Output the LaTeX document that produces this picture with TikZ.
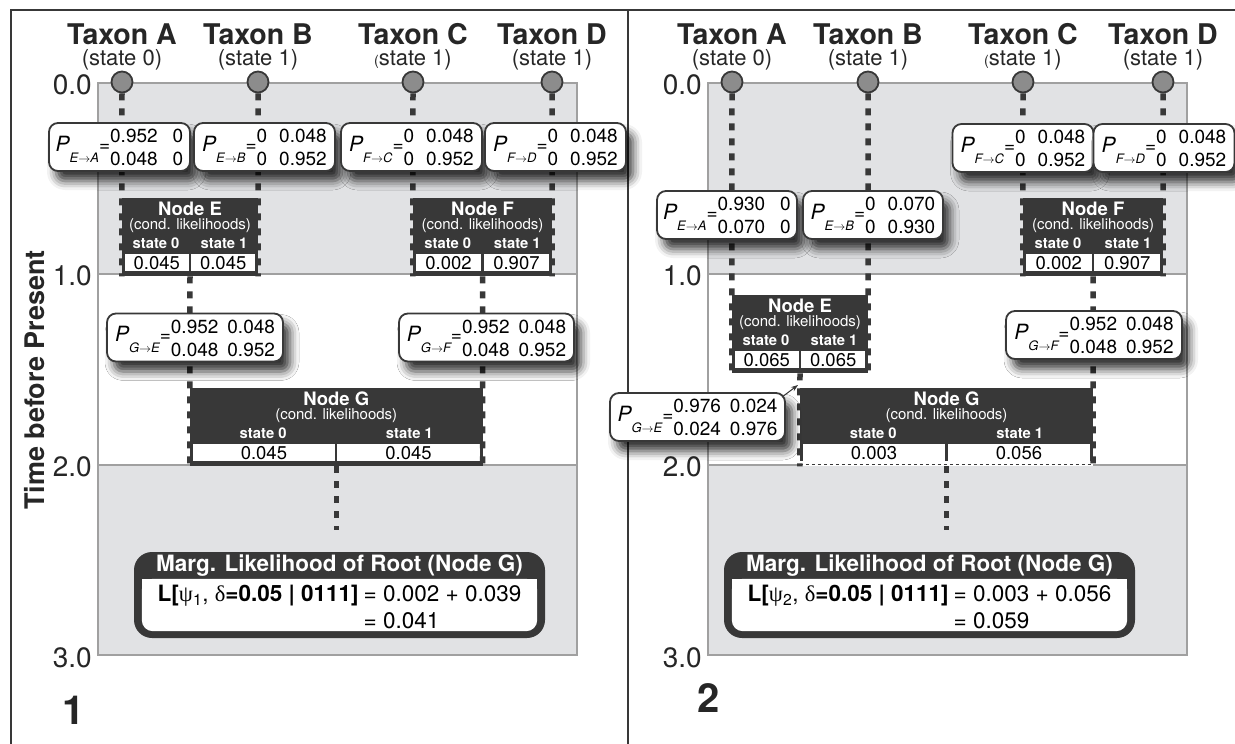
\documentclass[tikz,border=0pt]{standalone}
\usepackage{fontspec}
\setmainfont{TeX Gyre Heros}
\newfontfamily\grkfont{Liberation Serif}
\usetikzlibrary{arrows.meta,shadows.blur}

\definecolor{boxdark}{HTML}{383838}
\definecolor{plotgray}{HTML}{E1E2E4}
\definecolor{axisgray}{HTML}{A0A0A0}
\definecolor{leafgray}{HTML}{8C8C8C}
\definecolor{inkdark}{HTML}{262626}

\newcommand{\fsz}[1]{\fontsize{#1}{#1}\selectfont}

\tikzset{
  branch/.style={line width=5.5pt, draw=boxdark, dash pattern=on 7pt off 8pt},
  leaf/.style={circle, draw=boxdark, line width=1.8pt, fill=leafgray, minimum size=21pt, inner sep=0pt},
  taxon/.style={anchor=base, inner sep=0pt, text=inkdark, font=\fsz{28.5}\bfseries},
  tstate/.style={anchor=base, inner sep=0pt, text=inkdark, font=\fsz{22}},
  axislab/.style={anchor=base east, inner sep=0pt, text=inkdark, font=\fsz{28}},
  timelab/.style={rotate=90, anchor=base, inner sep=0pt, text=inkdark, font=\fsz{27}\bfseries},
  pbox/.style={draw=boxdark, line width=1.8pt, fill=white, rounded corners=9pt, minimum height=48pt, inner sep=1pt,
    text height=27pt, text depth=19pt,
    blur shadow={shadow xshift=7pt, shadow yshift=-10pt, shadow blur radius=9pt, shadow opacity=80}},
  condbg/.style={fill=boxdark, minimum height=78pt, inner sep=0pt},
  condtitle/.style={inner sep=0pt, text=white, font=\fsz{18.5}\bfseries},
  condsub/.style={inner sep=0pt, text=white, font=\fsz{15}},
  condstate/.style={inner sep=0pt, text=white, font=\fsz{14.8}\bfseries},
  cell/.style={fill=white, minimum height=17pt, inner sep=0pt, font=\fsz{18.5}},
  rootbox/.style={fill=boxdark, rounded corners=18pt, minimum width=411pt, minimum height=86pt, inner sep=0pt},
  roottitle/.style={inner sep=0pt, text=white, font=\fsz{22.5}\bfseries},
  rootbody/.style={inner sep=0pt, anchor=north, font=\fontsize{22.5}{27}\selectfont},
  panel/.style={inner sep=0pt, text=inkdark, font=\fsz{40}\bfseries},
}

% transition matrix text: [column gap]{from}{to}{rows}
\newcommand{\Pmat}[4][14pt]{%
  {\fsz{21}\itshape P}\raisebox{-11pt}{\fsz{13}\itshape #2$\rightarrow$#3}{\fsz{19}=}%
  \raisebox{-3pt}{\fontsize{19}{21}\selectfont\def\arraystretch{1.1}%
   \begin{tabular}{@{}l@{\hspace{#1}}l@{}}#4\end{tabular}}}

% conditional likelihood box: name, x, top, width, letter, state 0, state 1
\newcommand{\condbox}[7]{%
  \node[condbg, minimum width=#4pt, anchor=north] (#1) at (#2,#3) {};
  \node[condtitle] (#1t) at ([yshift=-11pt]#1.north) {Node #5};
  \node[condsub] (#1c) at ([yshift=-28pt]#1.north) {(cond. likelihoods)};
  \node[condstate] (#1s0) at ([xshift=-#4pt/4, yshift=-45pt]#1.north) {state 0};
  \node[condstate] (#1s1) at ([xshift=#4pt/4, yshift=-45pt]#1.north) {state 1};
  \node[cell, minimum width=#4pt/2-4pt, anchor=north east] (#1v0) at ([xshift=-1pt, yshift=-56pt]#1.north) {#6};
  \node[cell, minimum width=#4pt/2-4pt, anchor=north west] (#1v1) at ([xshift=1pt, yshift=-56pt]#1.north) {#7};
}

\begin{document}
\begin{tikzpicture}[x=1pt, y=-1pt]
\useasboundingbox (0,0) rectangle (1235,744);

% frame
\draw[boxdark, line width=2pt] (11,744) -- (11,10) -- (1235,10);
\draw[boxdark, line width=2pt] (628,10) -- (628,744);

% time bands
\fill[plotgray] (98,83) rectangle (577,655);
\fill[white] (98,274) rectangle (577,465);
\draw[axisgray, line width=1.2pt] (98,83) rectangle (577,655) (98,274) -- (577,274) (98,465) -- (577,465);
\fill[plotgray] (708,83) rectangle (1187,655);
\fill[white] (708,274) rectangle (1187,465);
\draw[axisgray, line width=1.2pt] (708,83) rectangle (1187,655) (708,274) -- (1187,274) (708,465) -- (1187,465);

\foreach \t/\yy in {0/94, 1/285, 2/476, 3/667} {
  \node[axislab] (ax1\t) at (92,\yy) {\t.0};
  \node[axislab] (ax2\t) at (702,\yy) {\t.0};
}
\node[timelab] (tbp) at (45,380) {Time before Present};
\node[panel] (lab1) at (74,710) {1};
\node[panel] (lab2) at (709,698) {2};

% node boxes
\condbox{E1}{190}{198}{136}{E}{0.045}{0.045}
\condbox{F1}{482.5}{198}{139}{F}{0.002}{0.907}
\condbox{G1}{336.25}{388}{292.5}{G}{0.045}{0.045}
\condbox{E2}{800}{295}{136}{E}{0.065}{0.065}
\condbox{F2}{1093}{198}{140}{F}{0.002}{0.907}
\condbox{G2}{946.5}{388}{293}{G}{0.003}{0.056}
\fill[white] ([yshift=5pt]G2.south west) rectangle (G2.south east);
\draw[boxdark, line width=1.3pt, dashed] ([yshift=2pt]G2.south west) -- ([yshift=2pt]G2.south east);

% taxa
\foreach \n/\xa/\xb/\st in {A/122/732/{(state 0)}, B/258/868/{(state 1)}, C/413/1023/{{\fsz{14}(}state 1)}, D/552/1163/{(state 1)}} {
  \node[taxon] (tx\n1) at (\xa,44) {Taxon \n};
  \node[tstate] (st\n1) at (\xa,65) {\st};
  \node[leaf] (c\n1) at (\xa,82) {};
  \node[taxon] (tx\n2) at (\xb,44) {Taxon \n};
  \node[tstate] (st\n2) at (\xb,65) {\st};
  \node[leaf] (c\n2) at (\xb,82) {};
}

% branches
\coordinate (r1) at (336.25,530);
\coordinate (r2) at (946.5,530);
\draw[branch] (cA1.south) -- (E1.south west);
\draw[branch] (cB1.south) -- (E1.south east);
\draw[branch] (cC1.south) -- (F1.south west);
\draw[branch] (cD1.south) -- (F1.south east);
\draw[branch] (E1.south) -- (G1.south west);
\draw[branch] (F1.south) -- (G1.south east);
\draw[branch] (G1.south) -- (r1);
\draw[branch] (cA2.south) -- (E2.south west);
\draw[branch] (cB2.south) -- (E2.south east);
\draw[branch] (cC2.south) -- (F2.south west);
\draw[branch] (cD2.south) -- (F2.south east);
\draw[branch] (E2.south) -- (G2.south west);
\draw[branch] (F2.south) -- (G2.south east);
\draw[branch] (G2.south) -- (r2);

% transition probabilities
\node[pbox, minimum width=141pt] (pEA1) at (119.5,147) {\Pmat[15pt]{E}{A}{0.952 & 0\\0.048 & 0}};
\node[pbox, minimum width=141pt] (pEB1) at (264.5,147) {\Pmat[12pt]{E}{B}{0 & 0.048\\0 & 0.952}};
\node[pbox, minimum width=141pt] (pFC1) at (411.5,147) {\Pmat[12pt]{F}{C}{0 & 0.048\\0 & 0.952}};
\node[pbox, minimum width=141pt] (pFD1) at (555.5,147) {\Pmat[12pt]{F}{D}{0 & 0.048\\0 & 0.952}};
\node[pbox, minimum width=176pt] (pGE1) at (195,337.5) {\Pmat[9pt]{G}{E}{0.952 & 0.048\\0.048 & 0.952}};
\node[pbox, minimum width=175pt] (pGF1) at (486.5,337.5) {\Pmat[9pt]{G}{F}{0.952 & 0.048\\0.048 & 0.952}};
\node[pbox, minimum width=140pt] (pEA2) at (727,215) {\Pmat[15pt]{E}{A}{0.930 & 0\\0.070 & 0}};
\node[pbox, minimum width=140pt] (pEB2) at (873,215) {\Pmat[12pt]{E}{B}{0 & 0.070\\0 & 0.930}};
\node[pbox, minimum width=141pt] (pFC2) at (1023,148) {\Pmat[12pt]{F}{C}{0 & 0.048\\0 & 0.952}};
\node[pbox, minimum width=141pt] (pFD2) at (1164,148) {\Pmat[12pt]{F}{D}{0 & 0.048\\0 & 0.952}};
\node[pbox, minimum width=175pt] (pGE2) at (697.5,417) {\Pmat[9pt]{G}{E}{0.976 & 0.024\\0.024 & 0.976}};
\node[pbox, minimum width=176pt] (pGF2) at (1094,335) {\Pmat[9pt]{G}{F}{0.952 & 0.048\\0.048 & 0.952}};
\coordinate (kEG2) at (798,385);
\draw[boxdark, line width=1pt, -{Stealth[length=7pt, width=5pt]}] ([xshift=-4pt, yshift=-5pt]pGE2.north east) -- (kEG2);

% root likelihoods
\node[rootbox] (R1) at (339.5,595) {};
\fill[white, rounded corners=11pt] ([xshift=8pt, yshift=-27pt]R1.north west) rectangle ([xshift=-8pt, yshift=7pt]R1.south east);
\fill[white] ([xshift=8pt, yshift=-27pt]R1.north west) rectangle ([xshift=-8pt, yshift=-45pt]R1.north east);
\node[roottitle] (R1t) at ([yshift=-14pt]R1.north) {Marg. Likelihood of Root (Node G)};
\node[rootbody] (R1b) at ([yshift=-31pt]R1.north) {\begin{tabular}{@{}r@{}l@{}}
  \textbf{L[}{\grkfont ψ}\textsubscript{1}, {\grkfont δ}\textbf{=0.05 | 0111]} & \hspace{5pt}= 0.002 + 0.039\\
  & \hspace{5pt}= 0.041\end{tabular}};

\node[rootbox] (R2) at (929.5,595) {};
\fill[white, rounded corners=11pt] ([xshift=8pt, yshift=-27pt]R2.north west) rectangle ([xshift=-8pt, yshift=7pt]R2.south east);
\fill[white] ([xshift=8pt, yshift=-27pt]R2.north west) rectangle ([xshift=-8pt, yshift=-45pt]R2.north east);
\node[roottitle] (R2t) at ([yshift=-14pt]R2.north) {Marg. Likelihood of Root (Node G)};
\node[rootbody] (R2b) at ([yshift=-31pt]R2.north) {\begin{tabular}{@{}r@{}l@{}}
  \textbf{L[}{\grkfont ψ}\textsubscript{2}, {\grkfont δ}\textbf{=0.05 | 0111]} & \hspace{5pt}= 0.003 + 0.056\\
  & \hspace{5pt}= 0.059\end{tabular}};
\end{tikzpicture}
\end{document}
